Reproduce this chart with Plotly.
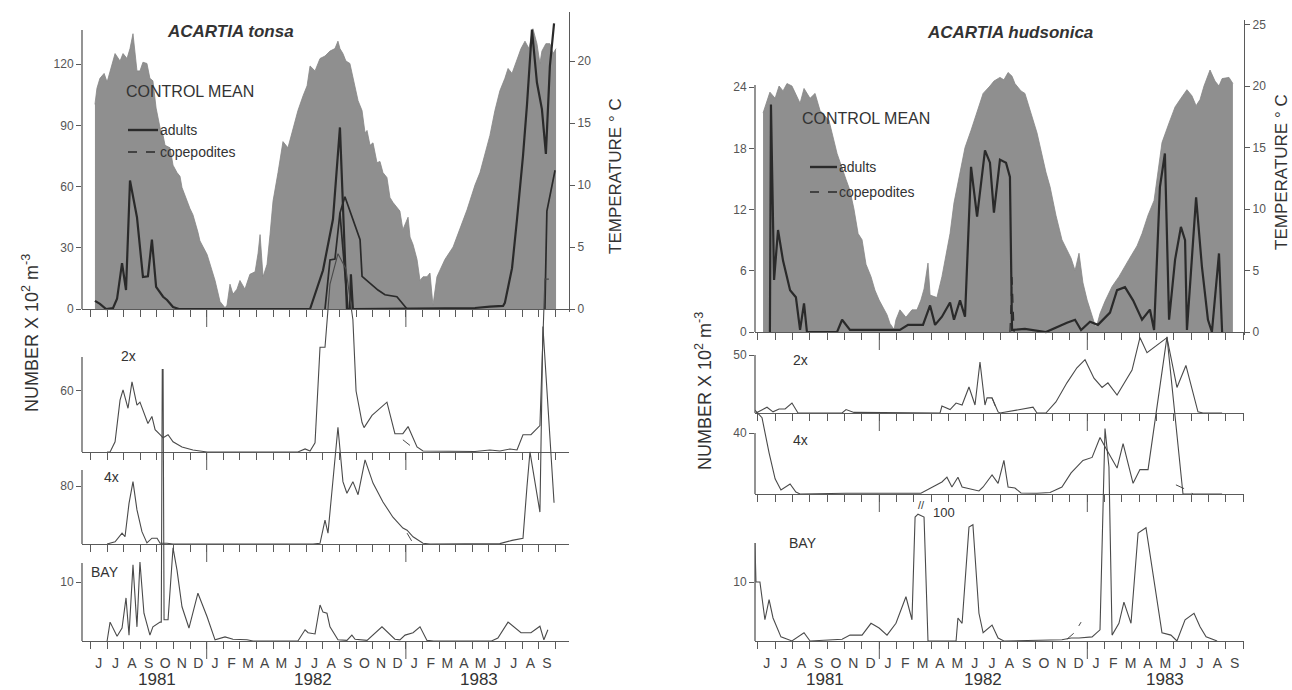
import plotly.graph_objects as go

W, H = 1292, 690
FONT = "Liberation Sans, Arial, sans-serif"
INK = "#333333"
AXC = "#5a5a5a"
GREY = "#8f8f8f"
DARK = "#2a2a2a"
THIN = "#4a4a4a"

# ---------------- tick labels / categories ----------------
MONTH_LABELS = ["J", "J", "A", "S", "O", "N", "D", "J", "F", "M", "A", "M", "J", "J",
                "A", "S", "O", "N", "D", "J", "F", "M", "A", "M", "J", "J", "A", "S"]
FIRST_MONTH = 1981 + 5 / 12          # June 1981
YEAR_LABELS = ["1981", "1982", "1983"]
TONSA_YEAR_X = [1981.751, 1982.534, 1983.367]
HUDS_YEAR_X = [1981.739, 1982.499, 1983.373]

TONSA_T_TICKS = [0, 5, 10, 15, 20]
HUDS_T_TICKS = [0, 5, 10, 15, 20, 25]
TONSA_CM_TICKS = [0, 30, 60, 90, 120]
HUDS_CM_TICKS = [0, 6, 12, 18, 24]
TONSA_2X_TICKS = [60]
TONSA_4X_TICKS = [80]
TONSA_BAY_TICKS = [10]
HUDS_2X_TICKS = [50]
HUDS_4X_TICKS = [40]
HUDS_BAY_TICKS = [10]

# ---------------- ACARTIA tonsa ----------------
TONSA_T_X = [1981.439, 1981.449, 1981.464, 1981.485, 1981.500, 1981.515, 1981.540, 1981.565, 1981.580, 1981.600,
             1981.615, 1981.630, 1981.640, 1981.650, 1981.665, 1981.680, 1981.700, 1981.715, 1981.730, 1981.746,
             1981.766, 1981.781, 1981.791, 1981.816, 1981.831, 1981.851, 1981.866, 1981.876, 1981.916, 1981.931,
             1981.956, 1981.966, 1982.002, 1982.042, 1982.067, 1982.092, 1982.102, 1982.117, 1982.132, 1982.152,
             1982.167, 1982.192, 1982.217, 1982.243, 1982.258, 1982.268, 1982.283, 1982.303, 1982.318, 1982.333,
             1982.358, 1982.383, 1982.408, 1982.433, 1982.458, 1982.484, 1982.504, 1982.519, 1982.544, 1982.569,
             1982.594, 1982.619, 1982.644, 1982.659, 1982.669, 1982.684, 1982.699, 1982.719, 1982.734, 1982.750,
             1982.760, 1982.780, 1982.795, 1982.805, 1982.820, 1982.835, 1982.855, 1982.870, 1982.885, 1982.905,
             1982.920, 1982.935, 1982.955, 1982.970, 1982.985, 1982.996, 1983.011, 1983.021, 1983.036, 1983.056,
             1983.071, 1983.086, 1983.106, 1983.121, 1983.136, 1983.156, 1983.196, 1983.237, 1983.272, 1983.307,
             1983.347, 1983.372, 1983.397, 1983.422, 1983.447, 1983.472, 1983.497, 1983.513, 1983.533, 1983.558,
             1983.578, 1983.598, 1983.618, 1983.638, 1983.658, 1983.673, 1983.683, 1983.703, 1983.723, 1983.739,
             1983.754]
TONSA_T_Y = [16.5, 17.8, 18.6, 19.0, 18.3, 19.2, 20.6, 20.0, 20.6, 20.2,
             21.0, 22.2, 20.5, 19.2, 19.2, 19.9, 19.8, 18.6, 18.4, 16.2,
             14.6, 14.0, 13.2, 13.0, 11.6, 11.0, 10.7, 9.8, 8.1, 7.6,
             6.2, 5.5, 4.4, 2.3, 0.6, 0.1, 0.3, 2.0, 1.2, 1.6,
             2.3, 1.6, 2.8, 3.0, 4.5, 6.0, 2.6, 3.6, 6.0, 8.7,
             11.0, 13.5, 13.0, 14.6, 16.0, 17.2, 18.0, 19.6, 19.2, 20.2,
             20.4, 20.8, 21.0, 21.6, 21.0, 20.6, 20.0, 19.8, 18.6, 17.4,
             16.8, 16.0, 14.2, 14.4, 13.2, 13.4, 11.8, 11.9, 11.0, 10.6,
             9.0, 8.6, 8.2, 7.9, 6.4, 6.8, 7.4, 5.8, 5.2, 4.0,
             2.3, 2.6, 2.6, 2.9, 0.3, 2.6, 4.0, 5.0, 6.5, 8.0,
             10.0, 11.0, 12.5, 14.0, 16.0, 17.6, 18.6, 19.4, 19.0, 20.2,
             21.0, 21.6, 21.0, 22.6, 21.4, 19.8, 20.8, 21.4, 21.4, 20.6,
             21.0]

TONSA_CM_AD_X = [1981.439, 1981.464, 1981.495, 1981.530, 1981.550, 1981.575, 1981.595, 1981.615, 1981.650, 1981.680,
                 1981.705, 1981.725, 1981.746, 1981.781, 1981.801, 1981.831, 1981.861,
                 1982.519, 1982.584, 1982.634, 1982.669, 1982.704, 1982.719, 1982.724, 1982.734,
                 1983.347, 1983.422, 1983.488, 1983.497, 1983.533, 1983.558, 1983.588, 1983.608, 1983.633, 1983.658,
                 1983.683, 1983.703, 1983.723, 1983.744]
TONSA_CM_AD_Y = [4.0, 2.5, 0, 0.5, 5, 22.5, 9.3, 63, 45, 15.7,
                 16, 34, 10.8, 6, 4.4, 1, 0,
                 0, 19, 44, 89, 0, 0, 17, 0,
                 0.5, 1.2, 1.5, 3, 20, 44, 75, 100, 137, 111,
                 98, 76, 119, 140]
TONSA_CM_B_X = [1982.594, 1982.619, 1982.644, 1982.669, 1982.694, 1982.770, 1982.780, 1982.860, 1982.895, 1982.955,
                1983.006]
TONSA_CM_B_Y = [0, 24, 24.5, 47, 55, 34, 16, 9.3, 7, 6, 0]
TONSA_CM_D_X = [1982.669, 1982.709]
TONSA_CM_D_Y = [47, 0]
TONSA_CM_C_X = [1983.698, 1983.708, 1983.749]
TONSA_CM_C_Y = [0, 48, 68]

TONSA_2X_X = [1981.500, 1981.515, 1981.540, 1981.565, 1981.580, 1981.605, 1981.625, 1981.650, 1981.665, 1981.690,
              1981.705, 1981.725, 1981.741, 1981.766, 1981.781, 1981.806, 1981.831, 1981.876, 1981.931, 1982.002,
              1982.458, 1982.494, 1982.519, 1982.544, 1982.569, 1982.594, 1982.619, 1982.659, 1982.699, 1982.734,
              1982.750, 1982.780, 1982.790, 1982.830, 1982.905, 1982.945, 1982.985, 1983.011, 1983.056, 1983.086,
              1983.347, 1983.422, 1983.472, 1983.523, 1983.558, 1983.588, 1983.628, 1983.673, 1983.688, 1983.698,
              1983.718]
TONSA_2X_Y = [0, 0, 10, 51, 61, 43, 69, 46, 49, 35,
              28, 35, 22, 17, 14, 17, 10, 5, 2, 0,
              0, 3, 1, 9, 103, 103, 165, 195, 180, 130,
              60, 29, 24, 36, 49, 18, 18, 25, 5, 1,
              0.5, 2, 1, 3, 2, 17, 17, 26, 120, 170,
              170]
TONSA_2X_COP_X = [1982.985, 1983.021, 1983.056]
TONSA_2X_COP_Y = [12, 6, 1]

TONSA_4X_X = [1981.500, 1981.540, 1981.575, 1981.590, 1981.610, 1981.630, 1981.650, 1981.675, 1981.700, 1981.725,
              1981.751, 1981.766, 1981.801, 1981.831, 1982.534, 1982.569, 1982.594, 1982.609, 1982.634, 1982.659,
              1982.684, 1982.704, 1982.734, 1982.760, 1982.795, 1982.835, 1982.885, 1982.935, 1982.985, 1983.006,
              1983.036, 1983.086, 1983.121, 1983.472, 1983.533, 1983.588, 1983.608, 1983.623, 1983.673, 1983.688,
              1983.744]
TONSA_4X_Y = [0, 3, 15, 10, 56, 86, 47, 17, 1.5, 8,
              8, 1, 1, 0, 0, 1, 33, 15, 88, 161,
              86, 70, 86, 68, 116, 84, 58, 37, 22, 19,
              10, 1, 0, 0.5, 5, 8, 79, 127, 44, 300,
              57]
TONSA_4X_COP_X = [1983.006, 1983.036]
TONSA_4X_COP_Y = [15, 1]

TONSA_BAY_X = [1981.500, 1981.515, 1981.550, 1981.575, 1981.595, 1981.610, 1981.630, 1981.650, 1981.665, 1981.685,
               1981.715, 1981.730, 1981.766, 1981.772, 1981.777, 1981.781, 1981.786, 1981.806, 1981.831, 1981.851,
               1981.876, 1981.911, 1981.956, 1982.002, 1982.042, 1982.092, 1982.132, 1982.202, 1982.233, 1982.458,
               1982.494, 1982.509, 1982.544, 1982.569, 1982.584, 1982.604, 1982.619, 1982.659, 1982.704, 1982.729,
               1982.745, 1982.805, 1982.880, 1982.945, 1982.970, 1982.996, 1983.036, 1983.071, 1983.106, 1983.140,
               1983.430, 1983.462, 1983.513, 1983.578, 1983.628, 1983.673, 1983.693, 1983.713]
TONSA_BAY_Y = [0, 3.2, 0.8, 2.2, 7.3, 1, 12.9, 2.4, 13.4, 4.7,
               1, 2.4, 3.2, 3.2, 46, 46, 3.6, 3.6, 15.8, 12,
               5.8, 2.2, 8.1, 4.1, 0.2, 0.7, 0.3, 0.2, 0, 0,
               1.9, 1.4, 1.2, 6.1, 4.9, 4.7, 2.4, 0.2, 0.1, 1,
               0.3, 0.1, 2.4, 0.3, 0.2, 1, 1.4, 2.4, 0.1, 0,
               0, 0.5, 3.2, 1.4, 1.4, 2.5, 0.2, 1.9]

# ---------------- ACARTIA hudsonica ----------------
HUDS_T_X = [1981.441, 1981.474, 1981.499, 1981.518, 1981.537, 1981.556, 1981.580, 1981.599, 1981.619, 1981.638,
            1981.667, 1981.691, 1981.715, 1981.758, 1981.797, 1981.840, 1981.859, 1981.878, 1981.898, 1981.917,
            1981.936, 1981.960, 1981.979, 1981.999, 1982.018, 1982.037, 1982.051, 1982.071, 1982.080, 1982.099,
            1982.128, 1982.157, 1982.181, 1982.200, 1982.215, 1982.234, 1982.244, 1982.277, 1982.301, 1982.325,
            1982.340, 1982.359, 1982.388, 1982.412, 1982.441, 1982.470, 1982.499, 1982.532, 1982.551, 1982.580,
            1982.599, 1982.619, 1982.638, 1982.652, 1982.681, 1982.700, 1982.739, 1982.758, 1982.801, 1982.821,
            1982.849, 1982.878, 1982.922, 1982.941, 1982.960, 1982.979, 1982.999, 1983.023, 1983.042, 1983.061,
            1983.085, 1983.119, 1983.152, 1983.200, 1983.239, 1983.263, 1983.292, 1983.321, 1983.349, 1983.359,
            1983.393, 1983.422, 1983.450, 1983.479, 1983.503, 1983.523, 1983.542, 1983.561, 1983.590, 1983.614,
            1983.633, 1983.648, 1983.681, 1983.700]
HUDS_T_Y = [17.8, 19.5, 19.0, 20.0, 19.6, 20.2, 20.0, 19.3, 18.6, 19.8,
            19.0, 19.4, 18.0, 17.2, 14.5, 12.4, 11.5, 10.0, 8.0, 7.5,
            5.5, 4.5, 3.4, 2.6, 2.0, 1.4, 0.7, 0.2, 1.0, 1.8,
            1.2, 1.8, 1.8, 2.6, 3.5, 5.6, 3.0, 2.8, 4.5, 6.5,
            8.0, 10.5, 13.0, 15.0, 16.4, 18.0, 19.4, 20.0, 20.4, 20.7,
            20.5, 21.1, 20.8, 20.2, 19.6, 19.4, 17.2, 16.2, 13.0, 11.8,
            9.5, 7.5, 6.0, 5.0, 6.4, 4.0, 2.6, 1.2, 0.3, 1.5,
            2.5, 3.7, 4.5, 5.9, 7.0, 8.0, 9.5, 10.7, 14.0, 15.4,
            17.0, 18.3, 19.0, 19.7, 19.2, 18.4, 18.9, 20.0, 21.3, 20.4,
            20.0, 20.6, 20.7, 20.2]

HUDS_CM_AD_X = [1981.474, 1981.479, 1981.494, 1981.513, 1981.537, 1981.571, 1981.599, 1981.619, 1981.638, 1981.652,
                1981.797, 1981.821, 1981.859, 1982.099, 1982.138, 1982.210, 1982.244, 1982.268, 1982.301, 1982.340,
                1982.359, 1982.388, 1982.412, 1982.441, 1982.470, 1982.508, 1982.532, 1982.551, 1982.580, 1982.609,
                1982.628, 1982.638, 1982.700, 1982.801, 1982.902, 1982.941, 1982.970, 1983.013, 1983.051, 1983.109,
                1983.143, 1983.181, 1983.220, 1983.263, 1983.301, 1983.321, 1983.349, 1983.373, 1983.393, 1983.422,
                1983.450, 1983.470, 1983.479, 1983.523, 1983.551, 1983.580, 1983.599, 1983.633, 1983.648]
HUDS_CM_AD_Y = [0, 22.3, 5.1, 10, 7, 4.1, 3.4, 0.2, 2.8, 0,
                0, 1.2, 0.2, 0.2, 0.7, 0.7, 2.6, 0.7, 1.5, 2.9,
                1.2, 3.1, 1.5, 16.2, 11.3, 17.8, 16.6, 11.7, 16.9, 16.6,
                15.2, 0.2, 0.3, 0, 0.9, 1.2, 0.2, 1.0, 0.7, 1.9,
                4.1, 4.4, 3.1, 1.2, 2.2, 0.2, 14.2, 17.5, 1.2, 7.1,
                10.3, 9, 0.2, 13.2, 6.4, 1.2, 0, 7.7, 0]
HUDS_CM_COP_X = [1982.628, 1982.638, 1982.648]
HUDS_CM_COP_Y = [0, 5.4, 0]

HUDS_2X_X = [1981.407, 1981.460, 1981.489, 1981.518, 1981.547, 1981.580, 1981.609, 1981.821, 1981.840, 1981.878,
             1982.292, 1982.301, 1982.340, 1982.369, 1982.398, 1982.431, 1982.460, 1982.484, 1982.508, 1982.518,
             1982.542, 1982.571, 1982.580, 1982.739, 1982.758, 1982.801, 1982.849, 1982.902, 1982.950, 1982.989,
             1983.032, 1983.071, 1983.099, 1983.143, 1983.215, 1983.253, 1983.287, 1983.383, 1983.431, 1983.474,
             1983.532, 1983.556, 1983.648]
HUDS_2X_Y = [0, 5, 1, 3.5, 3.5, 8.6, 0, 0, 3, 0.5,
             0, 6, 3, 8.6, 6.9, 22.4, 6.9, 44, 6.9, 13,
             13, 0.9, 0, 5, 0, 0, 9.5, 26, 39, 46,
             30, 22, 26, 15.5, 37, 65, 52, 65, 22, 41,
             1, 0, 0]
HUDS_2X_COP_X = [1982.542, 1982.571]
HUDS_2X_COP_Y = [13, 0]

HUDS_4X_X = [1981.402, 1981.436, 1981.470, 1981.499, 1981.527, 1981.547, 1981.571, 1981.599, 1981.619, 1981.840,
             1982.200, 1982.301, 1982.325, 1982.349, 1982.378, 1982.398, 1982.441, 1982.479, 1982.499, 1982.542,
             1982.571, 1982.599, 1982.619, 1982.652, 1982.681, 1982.758, 1982.821, 1982.878, 1982.922, 1982.979,
             1983.023, 1983.061, 1983.085, 1983.143, 1983.172, 1983.220, 1983.253, 1983.292, 1983.383, 1983.431,
             1983.460, 1983.648]
HUDS_4X_Y = [55, 50, 27, 10, 2.6, 4.6, 6.6, 1.3, 0, 0.5,
             0.5, 7.9, 11, 4.6, 11, 4.6, 3, 2, 4.6, 12.5,
             7, 22, 4.6, 3.9, 0.7, 0.5, 1, 4.6, 13.8, 22,
             24, 37, 31, 17, 33, 7, 16, 16, 103, 40,
             0, 0]
HUDS_4X_COP_X = [1983.426, 1983.474, 1983.508]
HUDS_4X_COP_Y = [6, 3, 0]

HUDS_BAY_X = [1981.398, 1981.402, 1981.407, 1981.426, 1981.450, 1981.470, 1981.489, 1981.508, 1981.527, 1981.580,
              1981.638, 1981.667, 1981.821, 1981.859, 1981.917, 1981.960, 1981.999, 1982.037, 1982.080, 1982.128,
              1982.157, 1982.172, 1982.186, 1982.215, 1982.234, 1982.369, 1982.378, 1982.398, 1982.431, 1982.450,
              1982.479, 1982.499, 1982.542, 1982.571, 1982.599, 1982.878, 1982.922, 1982.960, 1983.023, 1983.061,
              1983.085, 1983.104, 1983.119, 1983.152, 1983.176, 1983.210, 1983.244, 1983.282, 1983.321, 1983.359,
              1983.402, 1983.431, 1983.470, 1983.513, 1983.542, 1983.571, 1983.624]
HUDS_BAY_Y = [0, 16.6, 10, 10, 3.6, 7, 3.9, 2.2, 0.7, 0,
              1.4, 0, 0.3, 1, 1, 3, 2.2, 1, 3, 7.5,
              3.6, 21, 21.5, 21, 0, 0, 3.9, 3, 19.3, 19.7,
              4.7, 1.4, 2.7, 0.5, 0, 0.2, 0.5, 0.5, 0.7, 1.9,
              36, 29.5, 1, 3, 6.6, 3, 18.3, 19.2, 9.8, 1.4,
              1, 0, 3.6, 4.7, 2.4, 0.7, 0]
HUDS_BAY_COP_X = [1982.902, 1982.941, 1982.970]
HUDS_BAY_COP_Y = [0.3, 1.5, 3.2]


# ---------------- helpers (page pixel -> paper fraction) ----------------
def fx(p):
    return p / W


def fy(p):
    return 1 - p / H


month_starts = [FIRST_MONTH + k / 12 for k in range(len(MONTH_LABELS) + 1)]
month_mids = [m + 1 / 24 for m in month_starts[:-1]]
jan_firsts = [1982.0, 1983.0]

SOLID_TOP = dict(color=DARK, width=2.2)
SOLID_TOP2 = dict(color=DARK, width=1.7)
SOLID = dict(color=THIN, width=1.1)
DASH = dict(color=THIN, width=1.0, dash="dash")

panels = [
    dict(x0=82, x1=569, xr=[1981.374, 1983.819], years=TONSA_YEAR_X,
         title="<b><i>ACARTIA tonsa</i></b>", title_xy=(230, 31),
         cm_xy=(190, 91), leg=(128, 158, 130, 152),
         ytitle_xy=(30, 333), ttitle_xy=(616, 176),
         rows=[
             dict(pz=309, k=2.04, kt=12.4, ptop=12, axtop=30, ticks=TONSA_CM_TICKS, tticks=TONSA_T_TICKS,
                  temp=(TONSA_T_X, TONSA_T_Y),
                  lines=[(TONSA_CM_AD_X, TONSA_CM_AD_Y, SOLID_TOP), (TONSA_CM_B_X, TONSA_CM_B_Y, SOLID_TOP2),
                         (TONSA_CM_D_X, TONSA_CM_D_Y, SOLID_TOP2), (TONSA_CM_C_X, TONSA_CM_C_Y, SOLID_TOP2)]),
             dict(pz=452, k=1.017, ptop=240, axtop=357, ticks=TONSA_2X_TICKS, label=("2x", 128, 356),
                  lines=[(TONSA_2X_X, TONSA_2X_Y, SOLID), (TONSA_2X_COP_X, TONSA_2X_COP_Y, DASH)]),
             dict(pz=544, k=0.725, ptop=320, axtop=470, ticks=TONSA_4X_TICKS, label=("4x", 111, 477),
                  lines=[(TONSA_4X_X, TONSA_4X_Y, SOLID), (TONSA_4X_COP_X, TONSA_4X_COP_Y, DASH)]),
             dict(pz=641, k=5.9, ptop=360, axtop=563, ticks=TONSA_BAY_TICKS, label=("BAY", 105, 572),
                  lines=[(TONSA_BAY_X, TONSA_BAY_Y, SOLID)]),
         ]),
    dict(x0=755, x1=1244, xr=[1981.4023, 1983.7533], years=HUDS_YEAR_X,
         title="<b><i>ACARTIA hudsonica</i></b>", title_xy=(1010, 33),
         cm_xy=(866, 118), leg=(810, 837, 167, 192),
         ytitle_xy=(703, 391), ttitle_xy=(1281, 172),
         rows=[
             dict(pz=332, k=10.2, kt=12.3, ptop=20, axtop=85, ticks=HUDS_CM_TICKS, tticks=HUDS_T_TICKS,
                  temp=(HUDS_T_X, HUDS_T_Y),
                  lines=[(HUDS_CM_AD_X, HUDS_CM_AD_Y, SOLID_TOP), (HUDS_CM_COP_X, HUDS_CM_COP_Y,
                                                                   dict(color=DARK, width=1.2, dash="dash"))]),
             dict(pz=413, k=1.16, ptop=320, axtop=355, ticks=HUDS_2X_TICKS, label=("2x", 800, 360),
                  lines=[(HUDS_2X_X, HUDS_2X_Y, SOLID), (HUDS_2X_COP_X, HUDS_2X_COP_Y, DASH)]),
             dict(pz=494, k=1.525, ptop=320, axtop=433, ticks=HUDS_4X_TICKS, label=("4x", 800, 440),
                  lines=[(HUDS_4X_X, HUDS_4X_Y, SOLID), (HUDS_4X_COP_X, HUDS_4X_COP_Y, DASH)]),
             dict(pz=641, k=5.9, ptop=420, axtop=543, ticks=HUDS_BAY_TICKS, label=("BAY", 803, 543),
                  lines=[(HUDS_BAY_X, HUDS_BAY_Y, SOLID), (HUDS_BAY_COP_X, HUDS_BAY_COP_Y, DASH)]),
         ]),
]

fig = go.Figure()
lay = {}
shapes = []
annots = []


def aid(n):
    return "" if n == 1 else str(n)


def ann(text, x, y, size=14, **kw):
    d = dict(text=text, x=fx(x), y=fy(y), xref="paper", yref="paper", showarrow=False,
             font=dict(size=size, color=INK, family=FONT), xanchor="center", yanchor="middle")
    d.update(kw)
    annots.append(d)


tickfont = dict(size=12, color="#555555", family=FONT)
n = 0
extra = 9
for p in panels:
    nrows = len(p["rows"])
    for r, row in enumerate(p["rows"]):
        n += 1
        xname, yname = "x" + aid(n), "y" + aid(n)
        pz, k, ptop = row["pz"], row["k"], row["ptop"]
        dom = [fy(pz + 3), fy(ptop)]
        rng = [-3 / k, (pz - ptop) / k]
        xa = dict(domain=[fx(p["x0"]), fx(p["x1"])], range=p["xr"], anchor="free", position=fy(pz),
                  showline=True, linecolor=AXC, linewidth=1.3, showgrid=False, zeroline=False,
                  tickcolor=AXC, tickwidth=1)
        if r == nrows - 1:
            xa.update(tickmode="array", tickvals=month_mids, ticktext=MONTH_LABELS, ticks="",
                      tickfont=dict(size=14, color="#444444", family=FONT), ticklabelstandoff=9,
                      minor=dict(tickmode="array", tickvals=month_starts, ticks="outside", ticklen=7,
                                 tickcolor=AXC, tickwidth=1))
        else:
            xa.update(tickmode="array", tickvals=month_starts, ticks="outside", ticklen=7, showticklabels=False)
        lay["xaxis" + aid(n)] = xa

        cy = yname
        if "temp" in row:
            kt = row["kt"]
            lay["yaxis" + aid(n)] = dict(domain=dom, range=[-3 / kt, (pz - ptop) / kt], anchor=xname,
                                         side="right", showline=True, linecolor=AXC, linewidth=1.3,
                                         showgrid=False, zeroline=False, tickmode="array",
                                         tickvals=row["tticks"], ticks="outside", ticklen=5, tickcolor=AXC,
                                         tickfont=tickfont)
            tx, ty = row["temp"]
            fig.add_trace(go.Scatter(x=tx, y=ty, mode="lines", fill="tozeroy", fillcolor=GREY,
                                     line=dict(color="#858585", width=0.8), xaxis=xname, yaxis=yname,
                                     hoverinfo="skip", showlegend=False))
            cy = "y" + str(extra)
            lay["yaxis" + str(extra)] = dict(overlaying=yname, anchor=xname, side="left", range=rng,
                                             showline=False, showgrid=False, zeroline=False,
                                             tickmode="array", tickvals=row["ticks"], ticks="outside",
                                             ticklen=5, tickcolor=AXC, tickfont=tickfont)
            extra += 1
        else:
            lay["yaxis" + aid(n)] = dict(domain=dom, range=rng, anchor=xname, showline=False, showgrid=False,
                                         zeroline=False, tickmode="array", tickvals=row["ticks"],
                                         ticks="outside", ticklen=5, tickcolor=AXC, tickfont=tickfont)
        for lx, lyv, st in row["lines"]:
            fig.add_trace(go.Scatter(x=lx, y=lyv, mode="lines", line=st, xaxis=xname, yaxis=cy,
                                     hoverinfo="skip", showlegend=False))
        # left axis line segment
        shapes.append(dict(type="line", xref="paper", yref="paper", x0=fx(p["x0"]), x1=fx(p["x0"]),
                           y0=fy(pz), y1=fy(row["axtop"]), line=dict(color=AXC, width=1.3)))
        # long year-boundary ticks
        for j in jan_firsts:
            shapes.append(dict(type="line", xref=xname, yref="paper", x0=j, x1=j, y0=fy(pz), y1=fy(pz + 18),
                               line=dict(color=AXC, width=1)))
        if "label" in row:
            t, lx_, ly_ = row["label"]
            ann(t, lx_, ly_, size=14)
        if r == nrows - 1:
            for ytxt, yx in zip(YEAR_LABELS, p["years"]):
                annots.append(dict(text=ytxt, x=yx, y=fy(679), xref=xname, yref="paper", showarrow=False,
                                   font=dict(size=17, color=INK, family=FONT), xanchor="center",
                                   yanchor="middle"))

    # titles and legend
    ann(p["title"], *p["title_xy"], size=17)
    ann("CONTROL MEAN", *p["cm_xy"], size=16)
    l0, l1, ya_, yb_ = p["leg"]
    shapes.append(dict(type="line", xref="paper", yref="paper", x0=fx(l0), x1=fx(l1), y0=fy(ya_), y1=fy(ya_),
                       line=dict(color=DARK, width=2.4)))
    shapes.append(dict(type="line", xref="paper", yref="paper", x0=fx(l0), x1=fx(l1), y0=fy(yb_), y1=fy(yb_),
                       line=dict(color=DARK, width=1.6, dash="dash")))
    ann("adults", l1, ya_, size=14, xanchor="left")
    ann("copepodites", l1, yb_, size=14, xanchor="left")
    ann("NUMBER X 10<sup>2</sup> m<sup>-3</sup>", *p["ytitle_xy"], size=18, textangle=-90)
    ann("TEMPERATURE ° C", *p["ttitle_xy"], size=17, textangle=-90)

# off-scale marker on hudsonica BAY
ann("100", 944, 512, size=13)
ann("//", 921, 505, size=11)

fig.update_layout(width=W, height=H, margin=dict(l=0, r=0, t=0, b=0), template="none",
                  paper_bgcolor="white", plot_bgcolor="rgba(0,0,0,0)", showlegend=False,
                  shapes=shapes, annotations=annots, font=dict(family=FONT, color=INK), **lay)
fig.write_html("out.html", config={"displayModeBar": False},
               post_script="document.body.style.margin='0px';document.body.style.overflow='hidden';")
